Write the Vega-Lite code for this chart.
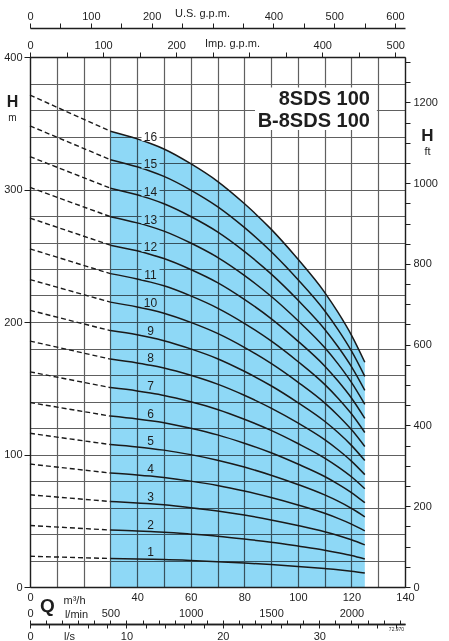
{
  "$schema": "https://vega.github.io/schema/vega-lite/v6.json",
  "width": 375,
  "height": 530,
  "autosize": "none",
  "padding": {"left": 30, "top": 57, "right": 44, "bottom": 54},
  "background": "white",
  "config": {
    "view": {"stroke": null},
    "font": "Liberation Sans",
    "axis": {
      "labelFont": "Liberation Sans", "titleFont": "Liberation Sans",
      "labelFontSize": 11, "titleFontSize": 11, "titleFontWeight": "normal",
      "labelColor": "#1e1e1e", "titleColor": "#1e1e1e",
      "domainColor": "#1e1e1e", "tickColor": "#1e1e1e",
      "domainWidth": 1.3, "tickWidth": 1,
      "labelFlush": false, "labelOverlap": false, "labelBound": false,
      "grid": false
    }
  },
  "datasets": {
    "curves": [
      {"n":1,"Q":0,"H":23.2},{"n":1,"Q":30,"H":21.5},{"n":1,"Q":40,"H":21.1},{"n":1,"Q":45,"H":20.9},{"n":1,"Q":50,"H":20.7},{"n":1,"Q":60,"H":20.0},{"n":1,"Q":70,"H":19.1},{"n":1,"Q":80,"H":18.1},{"n":1,"Q":90,"H":16.9},{"n":1,"Q":100,"H":15.5},{"n":1,"Q":110,"H":13.9},{"n":1,"Q":115,"H":13.0},{"n":1,"Q":120,"H":11.9},{"n":1,"Q":125,"H":10.6},
      {"n":2,"Q":0,"H":46.4},{"n":2,"Q":30,"H":43.0},{"n":2,"Q":40,"H":42.3},{"n":2,"Q":45,"H":41.8},{"n":2,"Q":50,"H":41.3},{"n":2,"Q":60,"H":39.9},{"n":2,"Q":70,"H":38.3},{"n":2,"Q":80,"H":36.2},{"n":2,"Q":90,"H":33.8},{"n":2,"Q":100,"H":30.9},{"n":2,"Q":110,"H":27.8},{"n":2,"Q":115,"H":25.9},{"n":2,"Q":120,"H":23.8},{"n":2,"Q":125,"H":21.2},
      {"n":3,"Q":0,"H":69.6},{"n":3,"Q":30,"H":64.5},{"n":3,"Q":40,"H":63.4},{"n":3,"Q":45,"H":62.8},{"n":3,"Q":50,"H":62.0},{"n":3,"Q":60,"H":59.9},{"n":3,"Q":70,"H":57.4},{"n":3,"Q":80,"H":54.3},{"n":3,"Q":90,"H":50.6},{"n":3,"Q":100,"H":46.4},{"n":3,"Q":110,"H":41.7},{"n":3,"Q":115,"H":38.9},{"n":3,"Q":120,"H":35.6},{"n":3,"Q":125,"H":31.8},
      {"n":4,"Q":0,"H":92.8},{"n":4,"Q":30,"H":86.0},{"n":4,"Q":40,"H":84.6},{"n":4,"Q":45,"H":83.7},{"n":4,"Q":50,"H":82.6},{"n":4,"Q":60,"H":79.9},{"n":4,"Q":70,"H":76.6},{"n":4,"Q":80,"H":72.4},{"n":4,"Q":90,"H":67.5},{"n":4,"Q":100,"H":61.9},{"n":4,"Q":110,"H":55.6},{"n":4,"Q":115,"H":51.8},{"n":4,"Q":120,"H":47.5},{"n":4,"Q":125,"H":42.4},
      {"n":5,"Q":0,"H":116.0},{"n":5,"Q":30,"H":107.5},{"n":5,"Q":40,"H":105.7},{"n":5,"Q":45,"H":104.6},{"n":5,"Q":50,"H":103.3},{"n":5,"Q":60,"H":99.9},{"n":5,"Q":70,"H":95.7},{"n":5,"Q":80,"H":90.5},{"n":5,"Q":90,"H":84.4},{"n":5,"Q":100,"H":77.4},{"n":5,"Q":110,"H":69.5},{"n":5,"Q":115,"H":64.8},{"n":5,"Q":120,"H":59.4},{"n":5,"Q":125,"H":53.0},
      {"n":6,"Q":0,"H":139.2},{"n":6,"Q":30,"H":129.0},{"n":6,"Q":40,"H":126.8},{"n":6,"Q":45,"H":125.5},{"n":6,"Q":50,"H":124.0},{"n":6,"Q":60,"H":119.8},{"n":6,"Q":70,"H":114.8},{"n":6,"Q":80,"H":108.5},{"n":6,"Q":90,"H":101.3},{"n":6,"Q":100,"H":92.8},{"n":6,"Q":110,"H":83.4},{"n":6,"Q":115,"H":77.7},{"n":6,"Q":120,"H":71.3},{"n":6,"Q":125,"H":63.6},
      {"n":7,"Q":0,"H":162.4},{"n":7,"Q":30,"H":150.5},{"n":7,"Q":40,"H":148.0},{"n":7,"Q":45,"H":146.4},{"n":7,"Q":50,"H":144.6},{"n":7,"Q":60,"H":139.8},{"n":7,"Q":70,"H":134.0},{"n":7,"Q":80,"H":126.6},{"n":7,"Q":90,"H":118.2},{"n":7,"Q":100,"H":108.3},{"n":7,"Q":110,"H":97.3},{"n":7,"Q":115,"H":90.7},{"n":7,"Q":120,"H":83.2},{"n":7,"Q":125,"H":74.2},
      {"n":8,"Q":0,"H":185.6},{"n":8,"Q":30,"H":172.0},{"n":8,"Q":40,"H":169.1},{"n":8,"Q":45,"H":167.4},{"n":8,"Q":50,"H":165.3},{"n":8,"Q":60,"H":159.8},{"n":8,"Q":70,"H":153.1},{"n":8,"Q":80,"H":144.7},{"n":8,"Q":90,"H":135.0},{"n":8,"Q":100,"H":123.8},{"n":8,"Q":110,"H":111.2},{"n":8,"Q":115,"H":103.6},{"n":8,"Q":120,"H":95.0},{"n":8,"Q":125,"H":84.8},
      {"n":9,"Q":0,"H":208.8},{"n":9,"Q":30,"H":193.5},{"n":9,"Q":40,"H":190.3},{"n":9,"Q":45,"H":188.3},{"n":9,"Q":50,"H":185.9},{"n":9,"Q":60,"H":179.7},{"n":9,"Q":70,"H":172.3},{"n":9,"Q":80,"H":162.8},{"n":9,"Q":90,"H":151.9},{"n":9,"Q":100,"H":139.2},{"n":9,"Q":110,"H":125.1},{"n":9,"Q":115,"H":116.6},{"n":9,"Q":120,"H":106.9},{"n":9,"Q":125,"H":95.4},
      {"n":10,"Q":0,"H":232.0},{"n":10,"Q":30,"H":215.0},{"n":10,"Q":40,"H":211.4},{"n":10,"Q":45,"H":209.2},{"n":10,"Q":50,"H":206.6},{"n":10,"Q":60,"H":199.7},{"n":10,"Q":70,"H":191.4},{"n":10,"Q":80,"H":180.9},{"n":10,"Q":90,"H":168.8},{"n":10,"Q":100,"H":154.7},{"n":10,"Q":110,"H":139.0},{"n":10,"Q":115,"H":129.5},{"n":10,"Q":120,"H":118.8},{"n":10,"Q":125,"H":106.0},
      {"n":11,"Q":0,"H":255.2},{"n":11,"Q":30,"H":236.5},{"n":11,"Q":40,"H":232.5},{"n":11,"Q":45,"H":230.1},{"n":11,"Q":50,"H":227.3},{"n":11,"Q":60,"H":219.7},{"n":11,"Q":70,"H":210.5},{"n":11,"Q":80,"H":199.0},{"n":11,"Q":90,"H":185.7},{"n":11,"Q":100,"H":170.2},{"n":11,"Q":110,"H":152.9},{"n":11,"Q":115,"H":142.5},{"n":11,"Q":120,"H":130.7},{"n":11,"Q":125,"H":116.6},
      {"n":12,"Q":0,"H":278.4},{"n":12,"Q":30,"H":258.0},{"n":12,"Q":40,"H":253.7},{"n":12,"Q":45,"H":251.0},{"n":12,"Q":50,"H":247.9},{"n":12,"Q":60,"H":239.6},{"n":12,"Q":70,"H":229.7},{"n":12,"Q":80,"H":217.1},{"n":12,"Q":90,"H":202.6},{"n":12,"Q":100,"H":185.6},{"n":12,"Q":110,"H":166.8},{"n":12,"Q":115,"H":155.4},{"n":12,"Q":120,"H":142.6},{"n":12,"Q":125,"H":127.2},
      {"n":13,"Q":0,"H":301.6},{"n":13,"Q":30,"H":279.5},{"n":13,"Q":40,"H":274.8},{"n":13,"Q":45,"H":272.0},{"n":13,"Q":50,"H":268.6},{"n":13,"Q":60,"H":259.6},{"n":13,"Q":70,"H":248.8},{"n":13,"Q":80,"H":235.2},{"n":13,"Q":90,"H":219.4},{"n":13,"Q":100,"H":201.1},{"n":13,"Q":110,"H":180.7},{"n":13,"Q":115,"H":168.4},{"n":13,"Q":120,"H":154.4},{"n":13,"Q":125,"H":137.8},
      {"n":14,"Q":0,"H":324.8},{"n":14,"Q":30,"H":301.0},{"n":14,"Q":40,"H":296.0},{"n":14,"Q":45,"H":292.9},{"n":14,"Q":50,"H":289.2},{"n":14,"Q":60,"H":279.6},{"n":14,"Q":70,"H":268.0},{"n":14,"Q":80,"H":253.3},{"n":14,"Q":90,"H":236.3},{"n":14,"Q":100,"H":216.6},{"n":14,"Q":110,"H":194.6},{"n":14,"Q":115,"H":181.3},{"n":14,"Q":120,"H":166.3},{"n":14,"Q":125,"H":148.4},
      {"n":15,"Q":0,"H":348.0},{"n":15,"Q":30,"H":322.5},{"n":15,"Q":40,"H":317.1},{"n":15,"Q":45,"H":313.8},{"n":15,"Q":50,"H":309.9},{"n":15,"Q":60,"H":299.6},{"n":15,"Q":70,"H":287.1},{"n":15,"Q":80,"H":271.4},{"n":15,"Q":90,"H":253.2},{"n":15,"Q":100,"H":232.1},{"n":15,"Q":110,"H":208.5},{"n":15,"Q":115,"H":194.3},{"n":15,"Q":120,"H":178.2},{"n":15,"Q":125,"H":159.0},
      {"n":16,"Q":0,"H":371.2},{"n":16,"Q":30,"H":344.0},{"n":16,"Q":40,"H":338.2},{"n":16,"Q":45,"H":334.7},{"n":16,"Q":50,"H":330.6},{"n":16,"Q":60,"H":319.5},{"n":16,"Q":70,"H":306.2},{"n":16,"Q":80,"H":289.4},{"n":16,"Q":90,"H":270.1},{"n":16,"Q":100,"H":247.5},{"n":16,"Q":110,"H":222.4},{"n":16,"Q":115,"H":207.2},{"n":16,"Q":120,"H":190.1},{"n":16,"Q":125,"H":169.6}
    ]
  },
  "layer": [
    {
      "data": {"name": "curves"},
      "layer": [
        {
          "transform": [{"filter": "datum.n == 16 && datum.Q >= 30"}],
          "mark": {"type": "area", "color": "#8ed8f6", "interpolate": "monotone", "blend": "multiply"},
          "encoding": {
            "x": {
              "field": "Q", "type": "quantitative",
              "scale": {"domain": [0, 140], "nice": false},
              "axis": {
                "orient": "bottom",
                "values": [0, 10, 20, 30, 40, 50, 60, 70, 80, 90, 100, 110, 120, 130, 140],
                "grid": true, "gridColor": "#606060", "gridWidth": 1.2,
                "ticks": false, "labelPadding": 4,
                "labelExpr": "datum.value % 20 == 0 && datum.value != 20 ? datum.label : ''",
                "title": "m³/h", "titleX": 44, "titleY": 16,
                "titleAlign": "center", "titleBaseline": "alphabetic"
              }
            },
            "y": {
              "field": "H", "type": "quantitative",
              "scale": {"domain": [0, 400], "nice": false},
              "axis": {
                "orient": "left",
                "values": [0, 20, 40, 60, 80, 100, 120, 140, 160, 180, 200, 220, 240, 260, 280, 300, 320, 340, 360, 380, 400],
                "grid": true, "gridColor": "#606060", "gridWidth": 1.2,
                "tickSize": 6,
                "tickOpacity": {"condition": {"test": "datum.value % 100 == 0", "value": 1}, "value": 0},
                "labelPadding": 2,
                "labelExpr": "datum.value % 100 == 0 ? datum.label : ''",
                "title": "H", "titleFontSize": 16, "titleFontWeight": "bold",
                "titleAngle": 0, "titleX": -18, "titleY": 49,
                "titleAlign": "center", "titleBaseline": "alphabetic"
              }
            }
          }
        },
        {
          "transform": [{"filter": "datum.Q <= 30"}],
          "mark": {"type": "line", "color": "#1a1a1a", "strokeWidth": 1.4, "strokeDash": [5, 3]},
          "encoding": {
            "x": {
              "field": "Q", "type": "quantitative", "scale": {"domain": [0, 140], "nice": false},
              "axis": {
                "orient": "bottom", "domain": false, "ticks": false, "labels": false,
                "title": "Q", "titleFontSize": 19, "titleFontWeight": "bold",
                "titleX": 17, "titleY": 24, "titleAlign": "center", "titleBaseline": "alphabetic"
              }
            },
            "y": {
              "field": "H", "type": "quantitative", "scale": {"domain": [0, 400], "nice": false},
              "axis": {
                "orient": "left", "domain": false, "ticks": false, "labels": false,
                "title": "m", "titleFontSize": 10, "titleAngle": 0, "titleX": -18, "titleY": 63,
                "titleAlign": "center", "titleBaseline": "alphabetic"
              }
            },
            "detail": {"field": "n"}
          }
        },
        {
          "transform": [{"filter": "datum.Q >= 30"}],
          "mark": {"type": "line", "color": "#1a1a1a", "strokeWidth": 1.5, "interpolate": "monotone"},
          "encoding": {
            "x": {
              "field": "Q", "type": "quantitative", "scale": {"domain": [0, 140], "nice": false},
              "axis": {
                "orient": "bottom", "domain": false, "ticks": false, "labels": false,
                "title": "72.970", "titleFontSize": 5,
                "titleX": 366, "titleY": 43, "titleAlign": "center", "titleBaseline": "alphabetic"
              }
            },
            "y": {
              "field": "H", "type": "quantitative", "scale": {"domain": [0, 400], "nice": false},
              "axis": {
                "orient": "right", "domain": false, "ticks": false, "labels": false,
                "title": "ft", "titleAngle": 0, "titleX": 22, "titleY": 97,
                "titleAlign": "center", "titleBaseline": "alphabetic"
              }
            },
            "detail": {"field": "n"}
          }
        },
        {
          "transform": [{"filter": "datum.Q == 45"}],
          "mark": {"type": "point", "shape": "M-1,-0.6H1V0.6H-1Z", "size": 324, "filled": true, "opacity": 1, "strokeWidth": 0, "yOffset": -8},
          "encoding": {
            "x": {"field": "Q", "type": "quantitative", "scale": {"domain": [0, 140], "nice": false}, "axis": null},
            "y": {"field": "H", "type": "quantitative", "scale": {"domain": [0, 400], "nice": false}, "axis": null},
            "color": {"condition": {"test": "datum.n == 16", "value": "white"}, "value": "#8ed8f6"}
          }
        },
        {
          "transform": [{"filter": "datum.Q == 45"}],
          "mark": {"type": "text", "baseline": "alphabetic", "align": "center", "dy": -3, "fontSize": 12, "color": "#1e1e1e"},
          "encoding": {
            "x": {"field": "Q", "type": "quantitative", "scale": {"domain": [0, 140], "nice": false}, "axis": null},
            "y": {"field": "H", "type": "quantitative", "scale": {"domain": [0, 400], "nice": false}, "axis": null},
            "text": {"field": "n", "type": "quantitative"}
          }
        },
        {
          "data": {"values": [{}]},
          "mark": {"type": "rect", "color": "white"},
          "encoding": {
            "x": {"datum": 84, "type": "quantitative", "scale": {"domain": [0, 140], "nice": false}, "axis": null},
            "x2": {"datum": 129.5},
            "y": {"datum": 345, "type": "quantitative", "scale": {"domain": [0, 400], "nice": false}, "axis": null},
            "y2": {"datum": 377}
          }
        },
        {
          "data": {"values": [{}]},
          "mark": {"type": "text", "align": "right", "baseline": "alphabetic", "fontSize": 20, "fontWeight": "bold", "color": "#1e1e1e"},
          "encoding": {
            "x": {"datum": 126.9, "type": "quantitative", "scale": {"domain": [0, 140], "nice": false}, "axis": null},
            "y": {"datum": 363.8, "type": "quantitative", "scale": {"domain": [0, 400], "nice": false}, "axis": null},
            "text": {"value": "8SDS 100"}
          }
        },
        {
          "data": {"values": [{}]},
          "mark": {"type": "text", "align": "right", "baseline": "alphabetic", "fontSize": 20, "fontWeight": "bold", "color": "#1e1e1e"},
          "encoding": {
            "x": {"datum": 126.9, "type": "quantitative", "scale": {"domain": [0, 140], "nice": false}, "axis": null},
            "y": {"datum": 347.2, "type": "quantitative", "scale": {"domain": [0, 400], "nice": false}, "axis": null},
            "text": {"value": "B-8SDS 100"}
          }
        }
      ],
      "resolve": {"axis": {"x": "independent", "y": "independent"}}
    },
    {
      "data": {"values": [{}]},
      "mark": {"type": "point", "opacity": 0},
      "encoding": {
        "x": {
          "datum": 0, "type": "quantitative",
          "scale": {"domain": [0, 616.4], "nice": false, "zero": false},
          "axis": {
            "orient": "top", "offset": 29,
            "values": [0, 50, 100, 150, 200, 250, 300, 350, 400, 450, 500, 550, 600],
            "tickSize": 5, "labelPadding": 2, "format": "d",
            "labelExpr": "datum.value % 100 == 0 && datum.value != 300 ? datum.label : ''",
            "title": "U.S. g.p.m.", "titleX": 172, "titleY": -12,
            "titleAlign": "center", "titleBaseline": "alphabetic"
          }
        }
      }
    },
    {
      "data": {"values": [{}]},
      "mark": {"type": "point", "opacity": 0},
      "encoding": {
        "x": {
          "datum": 0, "type": "quantitative",
          "scale": {"domain": [0, 513.3], "nice": false, "zero": false},
          "axis": {
            "orient": "top", "offset": 0,
            "values": [0, 50, 100, 150, 200, 250, 300, 350, 400, 450, 500],
            "tickSize": 5, "labelPadding": 2, "format": "d",
            "labelExpr": "datum.value % 100 == 0 && datum.value != 300 ? datum.label : ''",
            "title": "Imp. g.p.m.", "titleX": 202, "titleY": -11,
            "titleAlign": "center", "titleBaseline": "alphabetic"
          }
        }
      }
    },
    {
      "data": {"values": [{}]},
      "mark": {"type": "point", "opacity": 0},
      "encoding": {
        "x": {
          "datum": 0, "type": "quantitative",
          "scale": {"domain": [0, 2333.3], "nice": false, "zero": false},
          "axis": {
            "orient": "top", "offset": -567,
            "values": [0, 100, 200, 300, 400, 500, 600, 700, 800, 900, 1000, 1100, 1200, 1300, 1400, 1500, 1600, 1700, 1800, 1900, 2000, 2100, 2200, 2300],
            "tickSize": 4, "labelPadding": 2, "format": "d",
            "labelExpr": "datum.value % 500 == 0 ? datum.label : ''",
            "title": "l/min", "titleX": 46, "titleY": -7,
            "titleAlign": "center", "titleBaseline": "alphabetic"
          }
        }
      }
    },
    {
      "data": {"values": [{}]},
      "mark": {"type": "point", "opacity": 0},
      "encoding": {
        "x": {
          "datum": 0, "type": "quantitative",
          "scale": {"domain": [0, 38.889], "nice": false, "zero": false},
          "axis": {
            "orient": "bottom", "offset": 37,
            "values": [0, 2, 4, 6, 8, 10, 12, 14, 16, 18, 20, 22, 24, 26, 28, 30, 32, 34, 36, 38],
            "tickSize": 4, "labelPadding": 2, "format": "d",
            "labelExpr": "datum.value % 10 == 0 ? datum.label : ''",
            "title": "l/s", "titleX": 39, "titleY": 15,
            "titleAlign": "center", "titleBaseline": "alphabetic"
          }
        }
      }
    },
    {
      "data": {"values": [{}]},
      "mark": {"type": "point", "opacity": 0},
      "encoding": {
        "y": {
          "datum": 0, "type": "quantitative",
          "scale": {"domain": [0, 1312.34], "nice": false, "zero": false},
          "axis": {
            "orient": "right",
            "values": [0, 50, 100, 150, 200, 250, 300, 350, 400, 450, 500, 550, 600, 650, 700, 750, 800, 850, 900, 950, 1000, 1050, 1100, 1150, 1200, 1250, 1300],
            "tickSize": 5, "labelPadding": 3, "format": "d",
            "labelExpr": "datum.value % 200 == 0 ? datum.label : ''",
            "title": "H", "titleFontSize": 17, "titleFontWeight": "bold",
            "titleAngle": 0, "titleX": 22, "titleY": 83,
            "titleAlign": "center", "titleBaseline": "alphabetic"
          }
        }
      }
    }
  ],
  "resolve": {
    "scale": {"x": "independent", "y": "independent"},
    "axis": {"x": "independent", "y": "independent"}
  }
}
